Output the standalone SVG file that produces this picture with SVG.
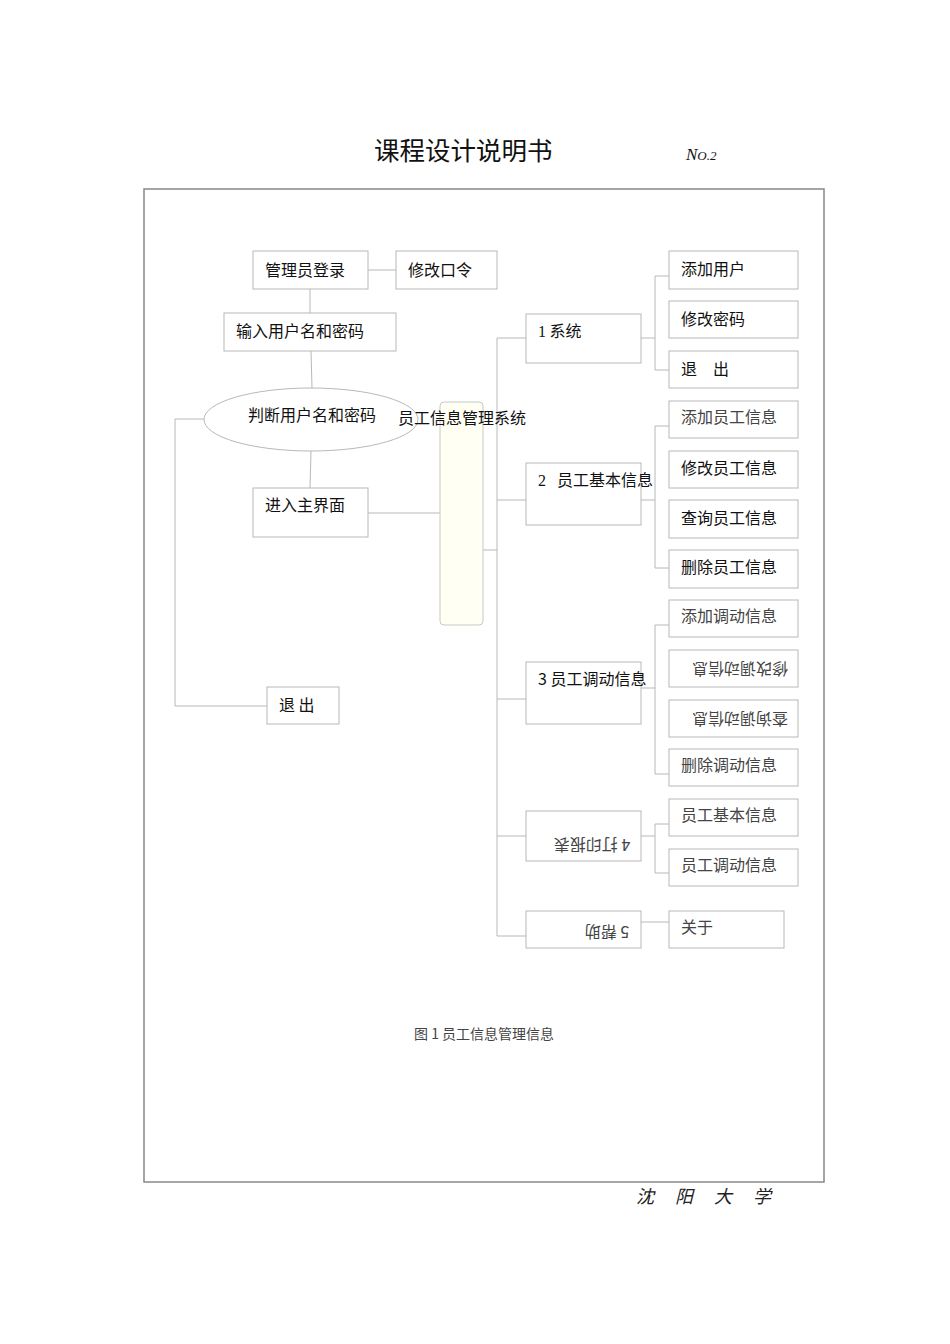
<svg xmlns="http://www.w3.org/2000/svg" width="950" height="1344" viewBox="0 0 950 1344">
<style>
.bx{fill:#fff;stroke:#b8b8b8;stroke-width:1}
.ln{fill:none;stroke:#b8b8b8;stroke-width:1}
.t{font-family:"Noto Sans CJK SC","Liberation Sans",sans-serif;font-size:16px;fill:#111}
.g{font-family:"Noto Sans CJK SC","Liberation Serif",serif;font-size:16px;fill:#444}
</style>
<rect width="950" height="1344" fill="#fff"/>
<text x="374" y="160" style="font-family:'Noto Sans CJK SC',sans-serif;font-size:25.5px;fill:#111">课程设计说明书</text>
<text x="686" y="160" style="font-family:'Liberation Serif',serif;font-style:italic;fill:#111"><tspan font-size="17">N</tspan><tspan font-size="13">O.2</tspan></text>
<rect x="144" y="189" width="680" height="993" fill="none" stroke="#888" stroke-width="1.5"/>

<g id="connectors">
<line class="ln" x1="368" y1="270" x2="396" y2="270"/>
<line class="ln" x1="310" y1="289" x2="310" y2="313"/>
<line class="ln" x1="311" y1="351" x2="312" y2="388"/>
<line class="ln" x1="311" y1="451" x2="310" y2="488"/>
<polyline class="ln" points="204,419 175,419 175,706 267,706"/>
<line class="ln" x1="368" y1="513" x2="440" y2="513"/>
<line class="ln" x1="483" y1="550" x2="497" y2="550"/>
<line class="ln" x1="497" y1="338" x2="497" y2="936"/>
<line class="ln" x1="497" y1="338" x2="526" y2="338"/>
<line class="ln" x1="497" y1="500" x2="526" y2="500"/>
<line class="ln" x1="497" y1="699" x2="526" y2="699"/>
<line class="ln" x1="497" y1="836" x2="526" y2="836"/>
<line class="ln" x1="497" y1="936" x2="526" y2="936"/>
<line class="ln" x1="641" y1="338" x2="655" y2="338"/>
<polyline class="ln" points="669,276 655,276 655,370 669,370"/>
<line class="ln" x1="641" y1="500" x2="655" y2="500"/>
<polyline class="ln" points="669,426 655,426 655,568 669,568"/>
<line class="ln" x1="641" y1="688" x2="655" y2="688"/>
<polyline class="ln" points="669,625 655,625 655,774 669,774"/>
<line class="ln" x1="641" y1="836" x2="655" y2="836"/>
<polyline class="ln" points="669,824 655,824 655,873 669,873"/>
<line class="ln" x1="641" y1="922" x2="669" y2="922"/>
</g>

<g id="n-login"><rect class="bx" x="253" y="251" width="115" height="38"/><text class="t" x="265" y="276">管理员登录</text></g>
<g id="n-changepw"><rect class="bx" x="396" y="251" width="101" height="38"/><text class="t" x="408" y="276">修改口令</text></g>
<g id="n-input"><rect class="bx" x="224" y="313" width="172" height="38"/><text class="t" x="236" y="337">输入用户名和密码</text></g>
<g id="n-judge"><ellipse class="bx" cx="311" cy="419.5" rx="107" ry="31.5"/><text class="t" x="248" y="421">判断用户名和密码</text></g>
<g id="n-main"><rect class="bx" x="253" y="488" width="115" height="49"/><text class="t" x="265" y="511">进入主界面</text></g>
<g id="n-exit"><rect class="bx" x="267" y="687" width="72" height="37"/><text class="t" x="279" y="711">退 出</text></g>
<g id="n-system"><rect x="440" y="402" width="43" height="223" rx="4" fill="#fffff4" stroke="#c8c8c0"/><text class="t" x="398" y="424">员工信息管理系统</text></g>

<g id="n-1"><rect class="bx" x="526" y="314" width="115" height="49"/><text class="t" x="538" y="337"><tspan style="font-family:'Liberation Serif',serif">1</tspan> 系统</text></g>
<g id="n-1a"><rect class="bx" x="669" y="251" width="129" height="38"/><text class="t" x="681" y="275">添加用户</text></g>
<g id="n-1b"><rect class="bx" x="669" y="301" width="129" height="37"/><text class="t" x="681" y="325">修改密码</text></g>
<g id="n-1c"><rect class="bx" x="669" y="351" width="129" height="37"/><text class="t" x="681" y="375">退　出</text></g>

<g id="n-2"><rect class="bx" x="526" y="463" width="115" height="62"/><text class="t" x="538" y="486"><tspan style="font-family:'Liberation Serif',serif">2</tspan><tspan x="557">员工基本信息</tspan></text></g>
<g id="n-2a"><rect class="bx" x="669" y="401" width="129" height="37"/><text class="g" x="681" y="423">添加员工信息</text></g>
<g id="n-2b"><rect class="bx" x="669" y="451" width="129" height="37"/><text class="t" x="681" y="474">修改员工信息</text></g>
<g id="n-2c"><rect class="bx" x="669" y="500" width="129" height="38"/><text class="t" x="681" y="524">查询员工信息</text></g>
<g id="n-2d"><rect class="bx" x="669" y="550" width="129" height="38"/><text class="t" x="681" y="573">删除员工信息</text></g>

<g id="n-3"><rect class="bx" x="526" y="662" width="115" height="62"/><text class="t" x="538" y="685">3 员工调动信息</text></g>
<g id="n-3a"><rect class="bx" x="669" y="600" width="129" height="37"/><text class="g" x="681" y="622">添加调动信息</text></g>
<g id="n-3b"><rect class="bx" x="669" y="650" width="129" height="37"/><text class="g" x="740" y="675" text-anchor="middle" transform="rotate(180 740 669)">修改调动信息</text></g>
<g id="n-3c"><rect class="bx" x="669" y="700" width="129" height="37"/><text class="g" x="740" y="725" text-anchor="middle" transform="rotate(180 740 719)">查询调动信息</text></g>
<g id="n-3d"><rect class="bx" x="669" y="749" width="129" height="37"/><text class="g" x="681" y="771">删除调动信息</text></g>

<g id="n-4"><rect class="bx" x="526" y="811" width="115" height="50"/><text class="g" x="592" y="851" text-anchor="middle" transform="rotate(180 592 845)">4 打印报表</text></g>
<g id="n-4a"><rect class="bx" x="669" y="799" width="129" height="37"/><text class="g" x="681" y="821">员工基本信息</text></g>
<g id="n-4b"><rect class="bx" x="669" y="849" width="129" height="37"/><text class="g" x="681" y="871">员工调动信息</text></g>

<g id="n-5"><rect class="bx" x="526" y="911" width="115" height="37"/><text class="g" x="607" y="938" text-anchor="middle" transform="rotate(180 607 932)">5 帮助</text></g>
<g id="n-5a"><rect class="bx" x="669" y="911" width="115" height="37"/><text class="g" x="681" y="933">关于</text></g>

<text x="414" y="1039" style="font-family:'Noto Sans CJK SC',serif;font-size:14px;fill:#444">图 1 员工信息管理信息</text>
<text x="636" y="1203" style="font-family:'Noto Sans CJK SC',serif;font-size:18px;font-style:italic;fill:#222;letter-spacing:21px">沈阳大学</text>
</svg>
